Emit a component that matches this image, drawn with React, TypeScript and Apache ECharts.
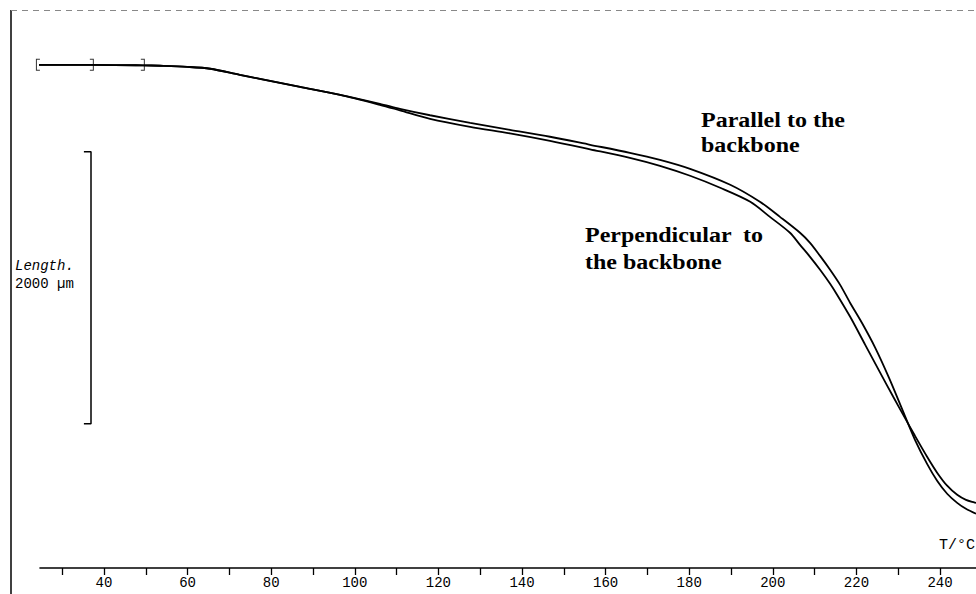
import React, { useEffect, useRef } from "react";
import * as echarts from "echarts";

// Temperature (°C) and relative length change (µm)
const parallelT = [24.2, 37.1, 49.3, 53.4, 59.9, 65.4, 72.5, 77.3, 86.9, 96.5, 106.0, 110.8, 118.0, 127.6, 137.1, 146.7, 156.3, 165.8, 173.0, 180.2, 189.8, 196.9, 201.7, 206.5, 208.9, 211.3, 213.7, 216.1, 218.5, 221.3, 224.5, 227.8, 231.2, 234.0, 236.9, 239.3, 241.7, 244.1, 246.2, 248.6];
const parallelL = [0, 0, -4, -7, -15, -29, -74, -103, -162, -221, -287, -324, -371, -427, -478, -529, -588, -647, -699, -765, -882, -1007, -1118, -1235, -1309, -1405, -1507, -1618, -1751, -1897, -2081, -2302, -2552, -2757, -2934, -3058, -3154, -3221, -3265, -3301];

const perpT = [24.2, 37.1, 49.3, 53.4, 59.9, 65.4, 72.5, 77.3, 86.9, 96.5, 106.0, 110.8, 118.0, 127.6, 137.1, 146.7, 156.3, 165.8, 173.0, 180.2, 187.4, 194.6, 199.3, 204.1, 206.5, 208.9, 211.3, 213.7, 215.4, 218.5, 222.1, 225.7, 228.8, 231.6, 234.0, 236.9, 239.3, 241.7, 244.1, 246.2, 248.6];
const perpL = [0, 0, -4, -7, -15, -29, -74, -103, -162, -221, -294, -335, -397, -456, -504, -559, -621, -684, -743, -816, -904, -1007, -1118, -1235, -1324, -1412, -1507, -1610, -1692, -1853, -2059, -2265, -2441, -2596, -2728, -2882, -2999, -3095, -3162, -3199, -3221];

const bracketT = [24.2, 37.1, 49.3];
const bracketL = [0, 0, 0];
const bracketKind = ["open", "close", "close"];

const scaleBarT = [35.2, 36.9, 36.9, 35.2];
const scaleBarL = [-640, -640, -2640, -2640];

const tickValues = [30, 40, 50, 60, 70, 80, 90, 100, 110, 120, 130, 140, 150, 160, 170, 180, 190, 200, 210, 220, 230, 240];
const labelValues = [40, 60, 80, 100, 120, 140, 160, 180, 200, 220, 240];

const zip = (a: number[], b: number[]) => a.map((v, i) => [v, b[i]]);

const OPEN = "path://M4,0 L0,0 L0,12 L4,12 L4,11 L1,11 L1,1 L4,1 Z";
const CLOSE = "path://M0,0 L4,0 L4,12 L0,12 L0,11 L3,11 L3,1 L0,1 Z";

export default function App() {
  const ref = useRef<HTMLDivElement>(null);
  useEffect(() => {
    if (!ref.current) return;
    const chart = echarts.init(ref.current, null, { renderer: "svg" });
    const mono = "Liberation Mono, DejaVu Sans Mono, monospace";
    const serif = "Liberation Serif, DejaVu Serif, serif";
    const label = (x: number, y: number, text: string) => ({
      type: "text",
      x,
      y,
      scaleX: 1.2,
      style: { x: 0, y: 0, text, font: `bold 20px ${serif}`, fill: "#000", textVerticalAlign: "middle" },
    });
    chart.setOption({
      animation: false,
      backgroundColor: "#ffffff",
      grid: { left: 40, right: 0, top: 10.4, bottom: 26, containLabel: false },
      xAxis: {
        type: "value",
        min: 24.7,
        max: 248.6,
        axisLine: { show: true, onZero: false, lineStyle: { color: "#000", width: 1.6 } },
        axisTick: { show: true, length: 7, customValues: tickValues, lineStyle: { color: "#000", width: 1.3 } },
        axisLabel: { show: true, customValues: labelValues, color: "#000", fontFamily: mono, fontSize: 14, margin: 8 },
        splitLine: { show: false },
      },
      yAxis: {
        type: "value",
        min: -3700,
        max: 400,
        show: false,
        splitLine: { show: false },
      },
      series: [
        {
          name: "Parallel to the backbone",
          type: "line",
          data: zip(parallelT, parallelL),
          showSymbol: false,
          clip: false,
          smooth: 0.3,
          lineStyle: { color: "#000", width: 1.8 },
        },
        {
          name: "Perpendicular to the backbone",
          type: "line",
          data: zip(perpT, perpL),
          showSymbol: false,
          clip: false,
          smooth: 0.3,
          lineStyle: { color: "#000", width: 1.8 },
        },
        {
          name: "scale",
          type: "line",
          data: zip(scaleBarT, scaleBarL),
          showSymbol: false,
          lineStyle: { color: "#000", width: 1.5 },
        },
        {
          name: "brackets",
          type: "scatter",
          clip: false,
          data: bracketT.map((t, i) => ({
            value: [t, bracketL[i]],
            symbol: bracketKind[i] === "open" ? OPEN : CLOSE,
          })),
          symbolSize: [4, 12],
          itemStyle: { color: "#000" },
        },
      ],
      graphic: [
        { type: "line", shape: { x1: 11, y1: 10, x2: 11, y2: 594 }, style: { stroke: "#000", lineWidth: 1.5 } },
        { type: "line", shape: { x1: 11, y1: 10.5, x2: 976, y2: 10.5 }, style: { stroke: "#888", lineWidth: 1, lineDash: [6, 5] } },
        label(701, 120, "Parallel to the"),
        label(701, 145, "backbone"),
        label(585, 235, "Perpendicular  to"),
        label(585, 262, "the backbone"),
        { type: "text", style: { x: 15, y: 266, text: "Length.", font: `italic 14px ${mono}`, fill: "#000", textVerticalAlign: "middle" } },
        { type: "text", style: { x: 15, y: 284, text: "2000 µm", font: `14px ${mono}`, fill: "#000", textVerticalAlign: "middle" } },
        { type: "text", style: { x: 939, y: 545, text: "T/°C", font: `15px ${mono}`, fill: "#000", textVerticalAlign: "middle" } },
      ],
    });
    return () => chart.dispose();
  }, []);
  return <div ref={ref} style={{ position: "absolute", left: 0, top: 0, width: 976, height: 594 }} />;
}
